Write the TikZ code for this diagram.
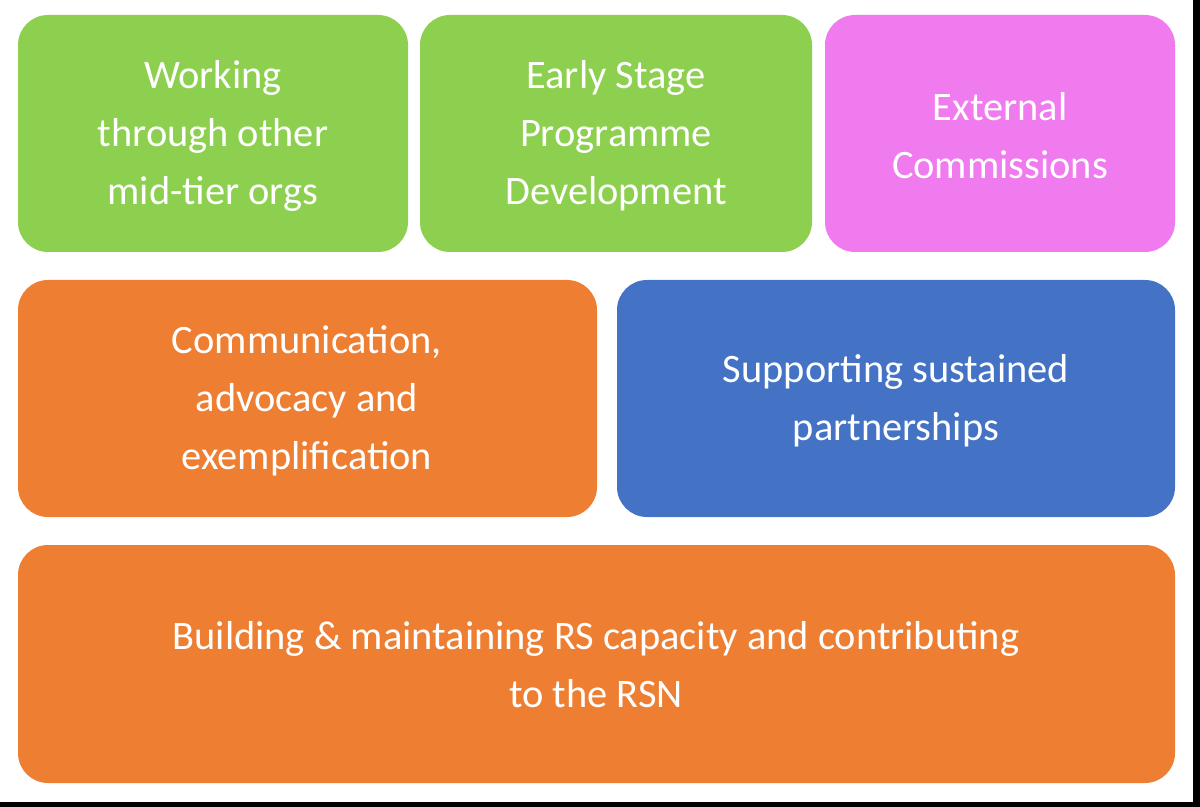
\documentclass[tikz,border=0pt]{standalone}
\usepackage{fontspec}
\setmainfont{Carlito}
\definecolor{gr}{HTML}{8DCF4F}
\definecolor{mg}{HTML}{EF7BEF}
\definecolor{orng}{HTML}{EE7E32}
\definecolor{bl}{HTML}{4472C4}
\begin{document}
\begin{tikzpicture}[x=0.02cm,y=-0.02cm,
  box/.style={rounded corners=0.6cm,text=white,align=center,font=\fontsize{23}{33}\selectfont,inner sep=0pt}]
\useasboundingbox (0,0) rectangle (1200,807);
\fill[black] (1193,0) rectangle (1200,807);
\fill[black] (0,802) rectangle (1200,807);
\fill[gr,box] (18,15) rectangle (408,252);
\node[box] (a) at (213,136) {Working\\through other\\mid-tier orgs};
\fill[gr,box] (420,15) rectangle (812,252);
\node[box] (b) at (616,136) {Early Stage\\Programme\\Development};
\fill[mg,box] (825,15) rectangle (1175,252);
\node[box] (c) at (1000,136) {External\\Commissions};
\fill[orng,box] (18,280) rectangle (597,517);
\node[box] (d) at (307,401) {Communication,\\advocacy and\\exemplification};
\fill[bl,box] (617,280) rectangle (1175,517);
\node[box] (e) at (896,401) {Supporting sustained\\partnerships};
\fill[orng,box] (18,545) rectangle (1175,783);
\node[box] (f) at (596,665) {Building \& maintaining RS capacity and contributing\\to the RSN};
\end{tikzpicture}
\end{document}
